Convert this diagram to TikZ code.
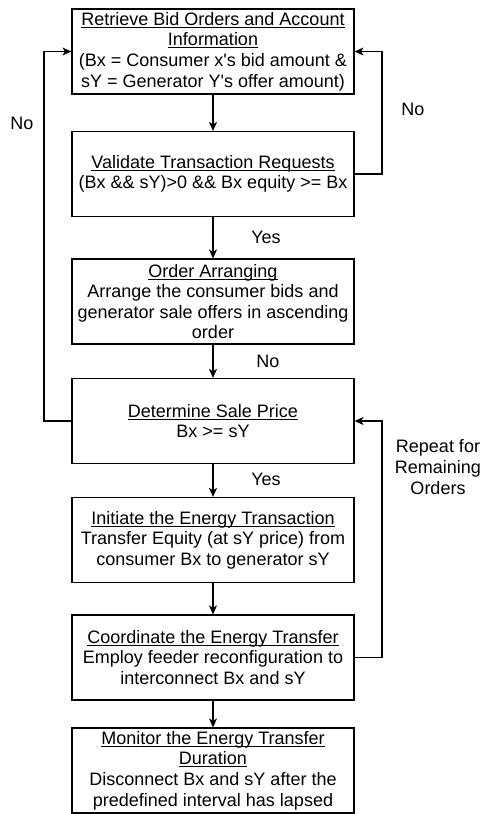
\documentclass[tikz,border=0pt]{standalone}
\usepackage{fontspec}
\setmainfont{Liberation Sans}[Ligatures=TeXOff]
\usetikzlibrary{arrows.meta}
% underline drawn at a fixed depth below the baseline
\newcommand{\ttl}[1]{\setbox0=\hbox{#1}\rlap{\rule[-2.4pt]{\wd0}{0.9pt}}\box0}
\begin{document}
\begin{tikzpicture}[x=1pt,y=-1pt,
  every node/.style={font=\fontsize{18}{20.6}\selectfont},
  stepbox/.style={draw, line width=1.2pt, minimum width=282pt, minimum height=85pt,
    align=center, inner sep=0pt},
  arr/.style={line width=1.2pt, -{Stealth[length=9pt,width=8pt,inset=2.5pt]}},
  lbl/.style={inner sep=0pt}]
\useasboundingbox (0,0) rectangle (480,814);
\fill[white] (0,0) rectangle (480,814);

\node[stepbox] (b1) at (213,51.5) {\ttl{Retrieve Bid Orders and Account}\\\ttl{Information}\\(Bx = Consumer x's bid amount \&\\sY = Generator Y's offer amount)};
\node[stepbox] (b2) at (213,174) {\ttl{Validate Transaction Requests}\\(Bx \&\& sY)>0 \&\& Bx equity >= Bx};
\node[stepbox] (b3) at (213,301.5) {\ttl{Order Arranging}\\Arrange the consumer bids and\\generator sale offers in ascending\\order};
\node[stepbox] (b4) at (213,421) {\ttl{Determine Sale Price}\\Bx >= sY};
\node[stepbox] (b5) at (213,540) {\ttl{Initiate the Energy Transaction}\\Transfer Equity (at sY price) from\\consumer Bx to generator sY};
\node[stepbox] (b6) at (213,657.5) {\ttl{Coordinate the Energy Transfer}\\Employ feeder reconfiguration to\\interconnect Bx and sY};
\node[stepbox] (b7) at (213,770.5) {\ttl{Monitor the Energy Transfer}\\\ttl{Duration}\\Disconnect Bx and sY after the\\predefined interval has lapsed};

\coordinate (lrail) at (44,0);
\coordinate (rrail) at (382,0);

\draw[arr] (b1) -- (b2);
\draw[arr] (b2) -- (b3);
\draw[arr] (b3) -- (b4);
\draw[arr] (b4) -- (b5);
\draw[arr] (b5) -- (b6);
\draw[arr] (b6) -- (b7);

\draw[arr] (b4.west) -- (b4.west -| lrail) |- (b1.west);
\draw[arr] (b2.east) -- (b2.east -| rrail) |- (b1.east);
\draw[arr] (b6.east) -- (b6.east -| rrail) |- (b4.east);

\node[lbl] (nl) at (22,123) {No};
\node[lbl] (nr) at (413,109) {No};
\node[lbl] (y1) at (266,237) {Yes};
\node[lbl] (n2) at (268,361) {No};
\node[lbl] (y2) at (266,479) {Yes};
\node[lbl, align=center] (rep) at (438,467) {Repeat for\\Remaining\\Orders};
\end{tikzpicture}
\end{document}
